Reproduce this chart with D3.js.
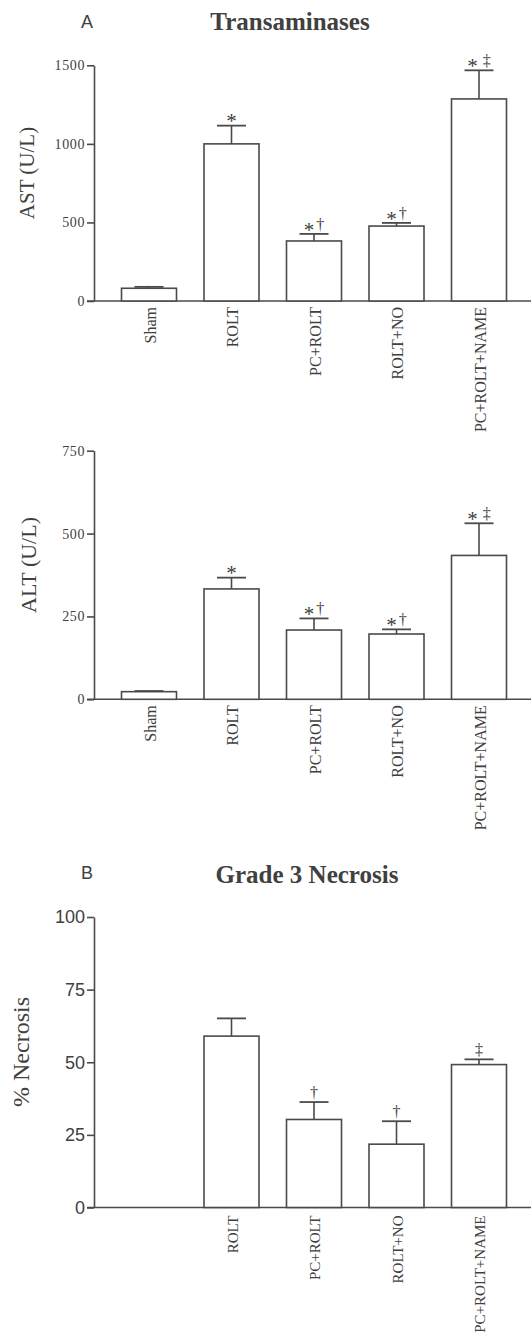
<!DOCTYPE html>
<html>
<head>
<meta charset="utf-8">
<script src="https://cdn.jsdelivr.net/npm/d3@7"></script>
<style>
  html, body { margin: 0; padding: 0; background: #fff; }
  svg { display: block; }
</style>
</head>
<body>
<svg id="fig" width="531" height="1340"></svg>
<script>
// Experimental groups
const groups = ["Sham", "ROLT", "PC+ROLT", "ROLT+NO", "PC+ROLT+NAME"];

// Panel A: serum transaminases (mean and SEM, U/L)
const astMean = [81, 1000, 382, 477, 1286];
const astSem  = [9, 116, 45, 20, 182];
const astMarks = ["", "*", "*†", "*†", "*‡"];
const astTicks = [0, 500, 1000, 1500];

const altMean = [23, 333, 209, 197, 434];
const altSem  = [2, 34, 35, 14, 97];
const altMarks = ["", "*", "*†", "*†", "*‡"];
const altTicks = [0, 250, 500, 750];

// Panel B: grade 3 necrosis (%), not assessed in Sham
const necMean = [null, 59, 30.3, 21.8, 49.2];
const necSem  = [null, 6.1, 6, 7.9, 1.8];
const necMarks = ["", "", "†", "†", "‡"];
const necTicks = [0, 25, 50, 75, 100];

const INK = "#4a4a4a";
const TEXT = "#404040";
const SERIF = "'Liberation Serif', 'Times New Roman', serif";
const SANS = "'Liberation Sans', Arial, sans-serif";

const svg = d3.select("#fig");

const x = d3.scaleBand()
  .domain(groups)
  .range([94, 534])
  .paddingInner(1 / 3)
  .paddingOuter(1 / 3);

function panel(opts) {
  const g = svg.append("g");
  const y = d3.scaleLinear().domain([0, opts.max]).range([opts.y0, opts.yTop]);

  // y axis
  const yAxis = d3.axisLeft(y)
    .tickValues(opts.ticks)
    .tickFormat(d3.format("d"))
    .tickSize(7)
    .tickSizeOuter(0)
    .tickPadding(2);
  const ya = g.append("g")
    .attr("transform", "translate(94,0)")
    .call(yAxis);
  ya.select(".domain").attr("stroke", INK).attr("stroke-width", 1.6);
  ya.selectAll(".tick line").attr("stroke", INK).attr("stroke-width", 1.6);
  ya.selectAll(".tick text")
    .attr("fill", TEXT)
    .style("font-family", opts.tickFont)
    .style("font-size", opts.tickSize + "px")
    .style("letter-spacing", opts.tickSpacing || "0px");

  // baseline
  g.append("line")
    .attr("x1", 87).attr("x2", 531)
    .attr("y1", y(0)).attr("y2", y(0))
    .attr("stroke", INK).attr("stroke-width", 1.6);

  const rows = groups.map((name, i) => ({
    name, mean: opts.mean[i], sem: opts.sem[i], mark: opts.marks[i]
  }));
  const shown = rows.filter(d => d.mean != null);

  // bars
  g.selectAll("rect.bar")
    .data(shown)
    .join("rect")
    .attr("class", "bar")
    .attr("x", d => x(d.name))
    .attr("width", x.bandwidth())
    .attr("y", d => y(d.mean))
    .attr("height", d => y(0) - y(d.mean))
    .attr("fill", "#fff")
    .attr("stroke", INK)
    .attr("stroke-width", 1.6);

  // error bars (upper half only)
  const capW = 29;
  const eb = g.selectAll("g.err").data(shown).join("g").attr("class", "err");
  eb.append("line")
    .attr("x1", d => x(d.name) + x.bandwidth() / 2)
    .attr("x2", d => x(d.name) + x.bandwidth() / 2)
    .attr("y1", d => y(d.mean))
    .attr("y2", d => y(d.mean + d.sem))
    .attr("stroke", INK).attr("stroke-width", 1.6);
  eb.append("line")
    .attr("x1", d => x(d.name) + x.bandwidth() / 2 - capW / 2)
    .attr("x2", d => x(d.name) + x.bandwidth() / 2 + capW / 2)
    .attr("y1", d => y(d.mean + d.sem))
    .attr("y2", d => y(d.mean + d.sem))
    .attr("stroke", INK).attr("stroke-width", 1.8);

  // significance symbols
  const sym = g.selectAll("text.sym")
    .data(shown.filter(d => d.mark))
    .join("text")
    .attr("class", "sym")
    .attr("x", d => x(d.name) + x.bandwidth() / 2)
    .attr("y", d => y(d.mean + d.sem) - 4)
    .attr("text-anchor", "middle")
    .attr("fill", TEXT)
    .style("font-family", SERIF)
    .style("font-size", "16px");
  sym.each(function (d) {
    const t = d3.select(this);
    const chars = Array.from(d.mark);
    chars.forEach((c, k) => {
      const ts = t.append("tspan").text(c);
      if (k > 0) ts.attr("dx", c === "‡" ? 5 : 2);
      if (c === "*") {
        ts.style("font-size", "21px").attr("dy", "0.32em");
      } else if (k > 0 && chars[k - 1] === "*") {
        ts.attr("dy", "-0.42em");
      }
    });
  });

  // category labels
  g.selectAll("text.cat")
    .data(shown)
    .join("text")
    .attr("class", "cat")
    .attr("transform", d => `translate(${x(d.name) + x.bandwidth() / 2 + 1},${y(0) + opts.labelGap}) rotate(-90)`)
    .attr("text-anchor", "end")
    .attr("dy", "0.35em")
    .attr("fill", TEXT)
    .style("font-family", SERIF)
    .style("font-size", opts.labelSize + "px")
    .text(d => d.name);

  // y axis title
  g.append("text")
    .attr("transform", `translate(${opts.titleX},${opts.titleY}) rotate(-90)`)
    .attr("text-anchor", "middle")
    .attr("fill", TEXT)
    .style("font-family", SERIF)
    .style("font-size", opts.titleSize + "px")
    .text(opts.yTitle);
}

// panel headings
function heading(letter, lx, ly, title, tx, ty) {
  svg.append("text")
    .attr("x", lx).attr("y", ly)
    .attr("fill", TEXT)
    .style("font-family", SANS)
    .style("font-size", "18px")
    .text(letter);
  svg.append("text")
    .attr("x", tx).attr("y", ty)
    .attr("text-anchor", "middle")
    .attr("fill", TEXT)
    .style("font-family", SERIF)
    .style("font-weight", "bold")
    .style("font-size", "25px")
    .text(title);
}

heading("A", 81, 28, "Transaminases", 290, 30);

panel({
  mean: astMean, sem: astSem, marks: astMarks, ticks: astTicks, max: 1500,
  y0: 301, yTop: 65.3, tickFont: SERIF, tickSize: 14, tickSpacing: "0.6px",
  labelGap: 6, labelSize: 16, yTitle: "AST (U/L)", titleX: 34, titleY: 173, titleSize: 21
});

panel({
  mean: altMean, sem: altSem, marks: altMarks, ticks: altTicks, max: 750,
  y0: 699.3, yTop: 450.7, tickFont: SERIF, tickSize: 14, tickSpacing: "0.6px",
  labelGap: 6, labelSize: 16, yTitle: "ALT (U/L)", titleX: 36, titleY: 565, titleSize: 22
});

heading("B", 81, 879, "Grade 3 Necrosis", 307, 883);

panel({
  mean: necMean, sem: necSem, marks: necMarks, ticks: necTicks, max: 100,
  y0: 1207.5, yTop: 917, tickFont: SANS, tickSize: 18,
  labelGap: 8, labelSize: 15, yTitle: "% Necrosis", titleX: 29, titleY: 1052, titleSize: 24
});
</script>
</body>
</html>
